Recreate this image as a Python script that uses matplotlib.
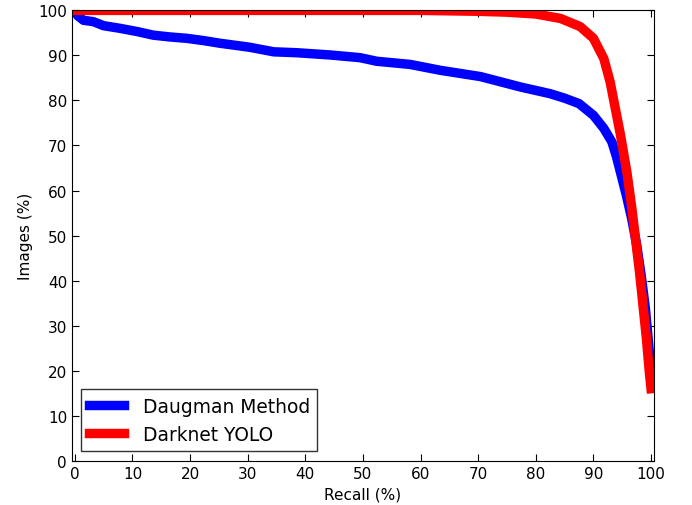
import numpy as np
import matplotlib
matplotlib.use("Agg")
import matplotlib.pyplot as plt

# Daugman method curve (recall %, images %)
daugman_x = [0, 0.5, 1.5, 3.2, 5, 7.9, 10.8, 13.6, 16.5, 19.4, 22.3, 25.2, 28.7,
             30.4, 34.5, 38.5, 44.3, 49.5, 52.4, 58.2, 63.4, 70.4, 77.3, 82.5,
             85, 87.5, 90, 91.8, 93.2, 94.0, 94.8, 95.7, 96.6, 97.5, 98.3, 99,
             99.5, 100]
daugman_y = [100, 98.8, 97.8, 97.5, 96.6, 96, 95.3, 94.5, 94.1, 93.8, 93.3, 92.7,
             92.1, 91.8, 90.8, 90.6, 90.1, 89.5, 88.7, 88, 86.7, 85.3, 83,
             81.5, 80.5, 79.3, 76.7, 73.8, 70.8, 67.5, 63.5, 59, 54, 48, 41,
             34, 27, 20]

# Darknet YOLO curve
yolo_x = [0, 20, 40, 60, 70, 75, 80, 84.3, 87.7, 90, 91.8, 92.9, 93.8, 94.7,
          95.8, 96.6, 97.3, 98.0, 98.6, 99.2, 99.7, 100]
yolo_y = [100, 100, 100, 100, 99.8, 99.6, 99.2, 98.2, 96.4, 93.8, 89.3, 84.1,
          78.2, 72.3, 64.1, 56.7, 49.3, 41.9, 34.5, 27.1, 19.7, 16]

fig = plt.figure(figsize=(6.92, 5.06), dpi=100)
ax = fig.add_axes([0.104, 0.0875, 0.841, 0.89])

ax.plot(daugman_x, daugman_y, color='blue', lw=6.8, label='Daugman Method')
ax.plot(yolo_x, yolo_y, color='red', lw=6.8, label='Darknet YOLO')

ax.set_xlim(-0.5, 100.5)
ax.set_ylim(0, 100)
ax.set_xticks(np.arange(0, 101, 10))
ax.set_yticks(np.arange(0, 101, 10))
ax.tick_params(direction='in', top=True, right=True, labelsize=11, length=5)
ax.set_xlabel('Recall (%)', fontsize=11)
ax.set_ylabel('Images (%)', fontsize=11)

leg = ax.legend(loc='lower left', fontsize=13.4, fancybox=False,
                handlelength=1.9, handletextpad=1.0, borderaxespad=0.5)
leg.get_frame().set_edgecolor('black')
leg.get_frame().set_linewidth(1)

fig.savefig('out.png', dpi=100)
